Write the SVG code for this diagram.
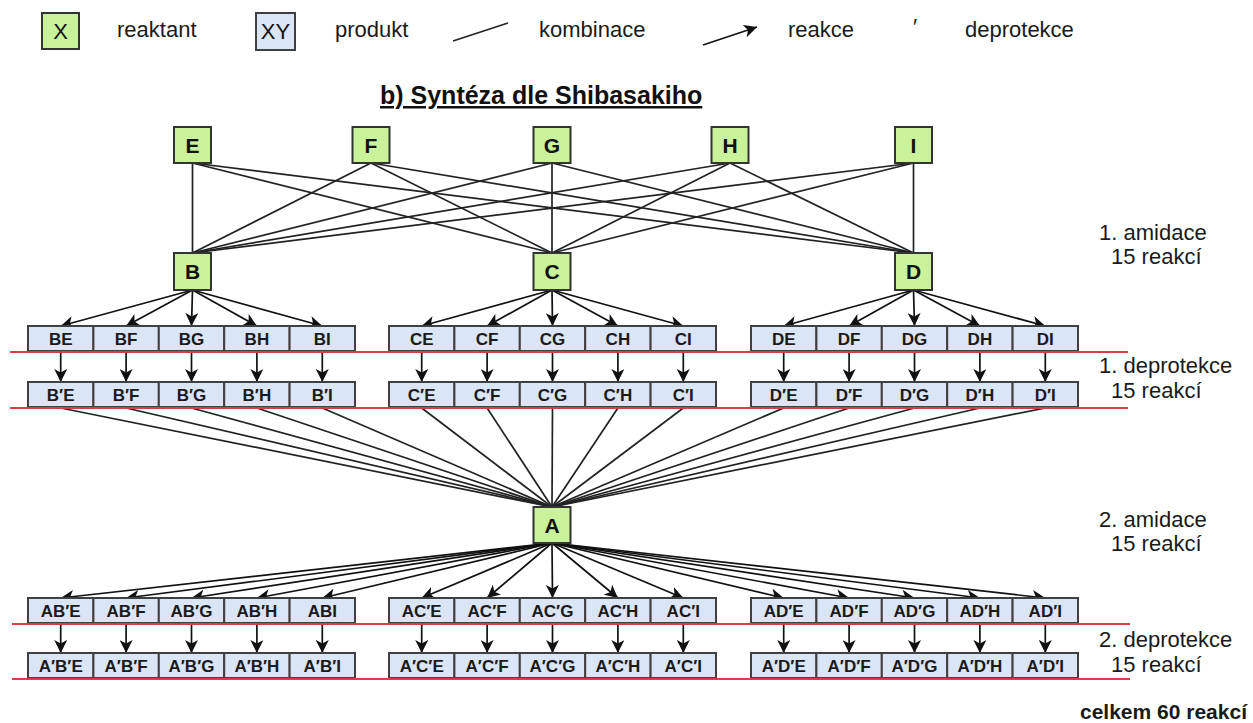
<svg xmlns="http://www.w3.org/2000/svg" width="1253" height="723" viewBox="0 0 1253 723">
<style>
.n{fill:#c9f29a;stroke:#333;stroke-width:2}
.c{fill:#dae5f5;stroke:#404040;stroke-width:2}
.nt{font-family:"Liberation Sans",Arial,sans-serif;font-size:21px;font-weight:bold;fill:#111;text-anchor:middle}
.lg{font-family:"Liberation Sans",Arial,sans-serif;font-size:22px;fill:#111;text-anchor:middle}
.ct{font-family:"Liberation Sans",Arial,sans-serif;font-size:17px;font-weight:bold;fill:#1a1a1a;text-anchor:middle}
.lt{font-family:"Liberation Sans",Arial,sans-serif;font-size:22px;fill:#1a1a1a}
.ln{stroke:#222;stroke-width:1.7;fill:none}
.ar{stroke:#111;stroke-width:1.7;fill:none;marker-end:url(#ah)}
.red{stroke:#dc3c46;stroke-width:1.8}
</style>
<defs>
<marker id="ah" viewBox="0 0 13 13" refX="13" refY="6.5" markerWidth="13" markerHeight="13" markerUnits="userSpaceOnUse" orient="auto">
<path d="M0,0 L13,6.5 L0,13 L3.5,6.5 z" fill="#111"/>
</marker>
</defs>
<rect width="1253" height="723" fill="#fff"/>

<g id="legend">
<rect class="n" x="42" y="13" width="37" height="36"/>
<text class="lg" x="60.5" y="39">X</text>
<text class="lt" x="117" y="37">reaktant</text>
<rect class="c" x="256" y="13" width="39" height="37"/>
<text class="lg" x="275.5" y="39" font-size="21">XY</text>
<text class="lt" x="335" y="37">produkt</text>
<line class="ln" x1="453" y1="41" x2="508" y2="23"/>
<text class="lt" x="539" y="37">kombinace</text>
<line class="ar" x1="703" y1="45" x2="757" y2="27"/>
<text class="lt" x="788" y="37">reakce</text>
<text class="lt" x="913" y="34">′</text>
<text class="lt" x="965" y="37">deprotekce</text>
</g>

<text id="title" x="380" y="104" font-family="Liberation Sans,Arial,sans-serif" font-size="25" font-weight="bold" fill="#111" text-decoration="underline">b) Syntéza dle Shibasakiho</text>

<g id="connectors">
<line class="ln" x1="192.5" y1="163" x2="192.5" y2="253"/>
<line class="ln" x1="192.5" y1="163" x2="552" y2="253"/>
<line class="ln" x1="192.5" y1="163" x2="913.5" y2="253"/>
<line class="ln" x1="371" y1="163" x2="192.5" y2="253"/>
<line class="ln" x1="371" y1="163" x2="552" y2="253"/>
<line class="ln" x1="371" y1="163" x2="913.5" y2="253"/>
<line class="ln" x1="552" y1="163" x2="192.5" y2="253"/>
<line class="ln" x1="552" y1="163" x2="552" y2="253"/>
<line class="ln" x1="552" y1="163" x2="913.5" y2="253"/>
<line class="ln" x1="730" y1="163" x2="192.5" y2="253"/>
<line class="ln" x1="730" y1="163" x2="552" y2="253"/>
<line class="ln" x1="730" y1="163" x2="913.5" y2="253"/>
<line class="ln" x1="913.5" y1="163" x2="192.5" y2="253"/>
<line class="ln" x1="913.5" y1="163" x2="552" y2="253"/>
<line class="ln" x1="913.5" y1="163" x2="913.5" y2="253"/>
<line class="ar" x1="192.5" y1="290" x2="60.7" y2="326"/>
<line class="ar" x1="192.5" y1="290" x2="126.1" y2="326"/>
<line class="ar" x1="192.5" y1="290" x2="191.5" y2="326"/>
<line class="ar" x1="192.5" y1="290" x2="256.9" y2="326"/>
<line class="ar" x1="192.5" y1="290" x2="322.3" y2="326"/>
<line class="ar" x1="552" y1="290" x2="421.7" y2="326"/>
<line class="ar" x1="552" y1="290" x2="487.1" y2="326"/>
<line class="ar" x1="552" y1="290" x2="552.5" y2="326"/>
<line class="ar" x1="552" y1="290" x2="617.9" y2="326"/>
<line class="ar" x1="552" y1="290" x2="683.3" y2="326"/>
<line class="ar" x1="913.5" y1="290" x2="783.7" y2="326"/>
<line class="ar" x1="913.5" y1="290" x2="849.1" y2="326"/>
<line class="ar" x1="913.5" y1="290" x2="914.5" y2="326"/>
<line class="ar" x1="913.5" y1="290" x2="979.9" y2="326"/>
<line class="ar" x1="913.5" y1="290" x2="1045.3" y2="326"/>
<line class="ar" x1="60.7" y1="352" x2="60.7" y2="382"/>
<line class="ar" x1="126.1" y1="352" x2="126.1" y2="382"/>
<line class="ar" x1="191.5" y1="352" x2="191.5" y2="382"/>
<line class="ar" x1="256.9" y1="352" x2="256.9" y2="382"/>
<line class="ar" x1="322.3" y1="352" x2="322.3" y2="382"/>
<line class="ar" x1="421.7" y1="352" x2="421.7" y2="382"/>
<line class="ar" x1="487.1" y1="352" x2="487.1" y2="382"/>
<line class="ar" x1="552.5" y1="352" x2="552.5" y2="382"/>
<line class="ar" x1="617.9" y1="352" x2="617.9" y2="382"/>
<line class="ar" x1="683.3" y1="352" x2="683.3" y2="382"/>
<line class="ar" x1="783.7" y1="352" x2="783.7" y2="382"/>
<line class="ar" x1="849.1" y1="352" x2="849.1" y2="382"/>
<line class="ar" x1="914.5" y1="352" x2="914.5" y2="382"/>
<line class="ar" x1="979.9" y1="352" x2="979.9" y2="382"/>
<line class="ar" x1="1045.3" y1="352" x2="1045.3" y2="382"/>
<line class="ln" x1="60.7" y1="408" x2="552" y2="507"/>
<line class="ln" x1="126.1" y1="408" x2="552" y2="507"/>
<line class="ln" x1="191.5" y1="408" x2="552" y2="507"/>
<line class="ln" x1="256.9" y1="408" x2="552" y2="507"/>
<line class="ln" x1="322.3" y1="408" x2="552" y2="507"/>
<line class="ln" x1="421.7" y1="408" x2="552" y2="507"/>
<line class="ln" x1="487.1" y1="408" x2="552" y2="507"/>
<line class="ln" x1="552.5" y1="408" x2="552" y2="507"/>
<line class="ln" x1="617.9" y1="408" x2="552" y2="507"/>
<line class="ln" x1="683.3" y1="408" x2="552" y2="507"/>
<line class="ln" x1="783.7" y1="408" x2="552" y2="507"/>
<line class="ln" x1="849.1" y1="408" x2="552" y2="507"/>
<line class="ln" x1="914.5" y1="408" x2="552" y2="507"/>
<line class="ln" x1="979.9" y1="408" x2="552" y2="507"/>
<line class="ln" x1="1045.3" y1="408" x2="552" y2="507"/>
<line class="ar" x1="552" y1="543" x2="60.7" y2="598"/>
<line class="ar" x1="552" y1="543" x2="126.1" y2="598"/>
<line class="ar" x1="552" y1="543" x2="191.5" y2="598"/>
<line class="ar" x1="552" y1="543" x2="256.9" y2="598"/>
<line class="ar" x1="552" y1="543" x2="322.3" y2="598"/>
<line class="ar" x1="552" y1="543" x2="421.7" y2="598"/>
<line class="ar" x1="552" y1="543" x2="487.1" y2="598"/>
<line class="ar" x1="552" y1="543" x2="552.5" y2="598"/>
<line class="ar" x1="552" y1="543" x2="617.9" y2="598"/>
<line class="ar" x1="552" y1="543" x2="683.3" y2="598"/>
<line class="ar" x1="552" y1="543" x2="783.7" y2="598"/>
<line class="ar" x1="552" y1="543" x2="849.1" y2="598"/>
<line class="ar" x1="552" y1="543" x2="914.5" y2="598"/>
<line class="ar" x1="552" y1="543" x2="979.9" y2="598"/>
<line class="ar" x1="552" y1="543" x2="1045.3" y2="598"/>
<line class="ar" x1="60.7" y1="624" x2="60.7" y2="653"/>
<line class="ar" x1="126.1" y1="624" x2="126.1" y2="653"/>
<line class="ar" x1="191.5" y1="624" x2="191.5" y2="653"/>
<line class="ar" x1="256.9" y1="624" x2="256.9" y2="653"/>
<line class="ar" x1="322.3" y1="624" x2="322.3" y2="653"/>
<line class="ar" x1="421.7" y1="624" x2="421.7" y2="653"/>
<line class="ar" x1="487.1" y1="624" x2="487.1" y2="653"/>
<line class="ar" x1="552.5" y1="624" x2="552.5" y2="653"/>
<line class="ar" x1="617.9" y1="624" x2="617.9" y2="653"/>
<line class="ar" x1="683.3" y1="624" x2="683.3" y2="653"/>
<line class="ar" x1="783.7" y1="624" x2="783.7" y2="653"/>
<line class="ar" x1="849.1" y1="624" x2="849.1" y2="653"/>
<line class="ar" x1="914.5" y1="624" x2="914.5" y2="653"/>
<line class="ar" x1="979.9" y1="624" x2="979.9" y2="653"/>
<line class="ar" x1="1045.3" y1="624" x2="1045.3" y2="653"/>
</g>

<g id="nodes">
<g id="E"><rect class="n" x="174" y="127" width="37" height="36"/><text class="nt" x="192.5" y="153">E</text></g>
<g id="F"><rect class="n" x="352.5" y="127" width="37" height="36"/><text class="nt" x="371" y="153">F</text></g>
<g id="G"><rect class="n" x="533.5" y="127" width="37" height="36"/><text class="nt" x="552" y="153">G</text></g>
<g id="H"><rect class="n" x="711.5" y="127" width="37" height="36"/><text class="nt" x="730" y="153">H</text></g>
<g id="I"><rect class="n" x="895" y="127" width="37" height="36"/><text class="nt" x="913.5" y="153">I</text></g>
<g id="B"><rect class="n" x="174" y="253" width="37" height="37"/><text class="nt" x="192.5" y="279">B</text></g>
<g id="C"><rect class="n" x="533.5" y="253" width="37" height="37"/><text class="nt" x="552" y="279">C</text></g>
<g id="D"><rect class="n" x="895" y="253" width="37" height="37"/><text class="nt" x="913.5" y="279">D</text></g>
<g id="A"><rect class="n" x="533.5" y="507" width="37" height="36"/><text class="nt" x="552" y="533">A</text></g>

<g id="BE" transform="translate(28,326)"><rect class="c" width="65.4" height="25"/><text class="ct" x="32.7" y="19">BE</text></g>
<g id="BF" transform="translate(93.4,326)"><rect class="c" width="65.4" height="25"/><text class="ct" x="32.7" y="19">BF</text></g>
<g id="BG" transform="translate(158.8,326)"><rect class="c" width="65.4" height="25"/><text class="ct" x="32.7" y="19">BG</text></g>
<g id="BH" transform="translate(224.2,326)"><rect class="c" width="65.4" height="25"/><text class="ct" x="32.7" y="19">BH</text></g>
<g id="BI" transform="translate(289.6,326)"><rect class="c" width="65.4" height="25"/><text class="ct" x="32.7" y="19">BI</text></g>
<g id="CE" transform="translate(389,326)"><rect class="c" width="65.4" height="25"/><text class="ct" x="32.7" y="19">CE</text></g>
<g id="CF" transform="translate(454.4,326)"><rect class="c" width="65.4" height="25"/><text class="ct" x="32.7" y="19">CF</text></g>
<g id="CG" transform="translate(519.8,326)"><rect class="c" width="65.4" height="25"/><text class="ct" x="32.7" y="19">CG</text></g>
<g id="CH" transform="translate(585.2,326)"><rect class="c" width="65.4" height="25"/><text class="ct" x="32.7" y="19">CH</text></g>
<g id="CI" transform="translate(650.6,326)"><rect class="c" width="65.4" height="25"/><text class="ct" x="32.7" y="19">CI</text></g>
<g id="DE" transform="translate(751,326)"><rect class="c" width="65.4" height="25"/><text class="ct" x="32.7" y="19">DE</text></g>
<g id="DF" transform="translate(816.4,326)"><rect class="c" width="65.4" height="25"/><text class="ct" x="32.7" y="19">DF</text></g>
<g id="DG" transform="translate(881.8,326)"><rect class="c" width="65.4" height="25"/><text class="ct" x="32.7" y="19">DG</text></g>
<g id="DH" transform="translate(947.2,326)"><rect class="c" width="65.4" height="25"/><text class="ct" x="32.7" y="19">DH</text></g>
<g id="DI" transform="translate(1012.6,326)"><rect class="c" width="65.4" height="25"/><text class="ct" x="32.7" y="19">DI</text></g>
<g id="BpE" transform="translate(28,382)"><rect class="c" width="65.4" height="25"/><text class="ct" x="32.7" y="19">B′E</text></g>
<g id="BpF" transform="translate(93.4,382)"><rect class="c" width="65.4" height="25"/><text class="ct" x="32.7" y="19">B′F</text></g>
<g id="BpG" transform="translate(158.8,382)"><rect class="c" width="65.4" height="25"/><text class="ct" x="32.7" y="19">B′G</text></g>
<g id="BpH" transform="translate(224.2,382)"><rect class="c" width="65.4" height="25"/><text class="ct" x="32.7" y="19">B′H</text></g>
<g id="BpI" transform="translate(289.6,382)"><rect class="c" width="65.4" height="25"/><text class="ct" x="32.7" y="19">B′I</text></g>
<g id="CpE" transform="translate(389,382)"><rect class="c" width="65.4" height="25"/><text class="ct" x="32.7" y="19">C′E</text></g>
<g id="CpF" transform="translate(454.4,382)"><rect class="c" width="65.4" height="25"/><text class="ct" x="32.7" y="19">C′F</text></g>
<g id="CpG" transform="translate(519.8,382)"><rect class="c" width="65.4" height="25"/><text class="ct" x="32.7" y="19">C′G</text></g>
<g id="CpH" transform="translate(585.2,382)"><rect class="c" width="65.4" height="25"/><text class="ct" x="32.7" y="19">C′H</text></g>
<g id="CpI" transform="translate(650.6,382)"><rect class="c" width="65.4" height="25"/><text class="ct" x="32.7" y="19">C′I</text></g>
<g id="DpE" transform="translate(751,382)"><rect class="c" width="65.4" height="25"/><text class="ct" x="32.7" y="19">D′E</text></g>
<g id="DpF" transform="translate(816.4,382)"><rect class="c" width="65.4" height="25"/><text class="ct" x="32.7" y="19">D′F</text></g>
<g id="DpG" transform="translate(881.8,382)"><rect class="c" width="65.4" height="25"/><text class="ct" x="32.7" y="19">D′G</text></g>
<g id="DpH" transform="translate(947.2,382)"><rect class="c" width="65.4" height="25"/><text class="ct" x="32.7" y="19">D′H</text></g>
<g id="DpI" transform="translate(1012.6,382)"><rect class="c" width="65.4" height="25"/><text class="ct" x="32.7" y="19">D′I</text></g>
<g id="ABpE" transform="translate(28,598)"><rect class="c" width="65.4" height="25"/><text class="ct" x="32.7" y="19">AB′E</text></g>
<g id="ABpF" transform="translate(93.4,598)"><rect class="c" width="65.4" height="25"/><text class="ct" x="32.7" y="19">AB′F</text></g>
<g id="ABpG" transform="translate(158.8,598)"><rect class="c" width="65.4" height="25"/><text class="ct" x="32.7" y="19">AB′G</text></g>
<g id="ABpH" transform="translate(224.2,598)"><rect class="c" width="65.4" height="25"/><text class="ct" x="32.7" y="19">AB′H</text></g>
<g id="ABpI" transform="translate(289.6,598)"><rect class="c" width="65.4" height="25"/><text class="ct" x="32.7" y="19">ABI</text></g>
<g id="ACpE" transform="translate(389,598)"><rect class="c" width="65.4" height="25"/><text class="ct" x="32.7" y="19">AC′E</text></g>
<g id="ACpF" transform="translate(454.4,598)"><rect class="c" width="65.4" height="25"/><text class="ct" x="32.7" y="19">AC′F</text></g>
<g id="ACpG" transform="translate(519.8,598)"><rect class="c" width="65.4" height="25"/><text class="ct" x="32.7" y="19">AC′G</text></g>
<g id="ACpH" transform="translate(585.2,598)"><rect class="c" width="65.4" height="25"/><text class="ct" x="32.7" y="19">AC′H</text></g>
<g id="ACpI" transform="translate(650.6,598)"><rect class="c" width="65.4" height="25"/><text class="ct" x="32.7" y="19">AC′I</text></g>
<g id="ADpE" transform="translate(751,598)"><rect class="c" width="65.4" height="25"/><text class="ct" x="32.7" y="19">AD′E</text></g>
<g id="ADpF" transform="translate(816.4,598)"><rect class="c" width="65.4" height="25"/><text class="ct" x="32.7" y="19">AD′F</text></g>
<g id="ADpG" transform="translate(881.8,598)"><rect class="c" width="65.4" height="25"/><text class="ct" x="32.7" y="19">AD′G</text></g>
<g id="ADpH" transform="translate(947.2,598)"><rect class="c" width="65.4" height="25"/><text class="ct" x="32.7" y="19">AD′H</text></g>
<g id="ADpI" transform="translate(1012.6,598)"><rect class="c" width="65.4" height="25"/><text class="ct" x="32.7" y="19">AD′I</text></g>
<g id="ApBpE" transform="translate(28,653)"><rect class="c" width="65.4" height="25"/><text class="ct" x="32.7" y="19">A′B′E</text></g>
<g id="ApBpF" transform="translate(93.4,653)"><rect class="c" width="65.4" height="25"/><text class="ct" x="32.7" y="19">A′B′F</text></g>
<g id="ApBpG" transform="translate(158.8,653)"><rect class="c" width="65.4" height="25"/><text class="ct" x="32.7" y="19">A′B′G</text></g>
<g id="ApBpH" transform="translate(224.2,653)"><rect class="c" width="65.4" height="25"/><text class="ct" x="32.7" y="19">A′B′H</text></g>
<g id="ApBpI" transform="translate(289.6,653)"><rect class="c" width="65.4" height="25"/><text class="ct" x="32.7" y="19">A′B′I</text></g>
<g id="ApCpE" transform="translate(389,653)"><rect class="c" width="65.4" height="25"/><text class="ct" x="32.7" y="19">A′C′E</text></g>
<g id="ApCpF" transform="translate(454.4,653)"><rect class="c" width="65.4" height="25"/><text class="ct" x="32.7" y="19">A′C′F</text></g>
<g id="ApCpG" transform="translate(519.8,653)"><rect class="c" width="65.4" height="25"/><text class="ct" x="32.7" y="19">A′C′G</text></g>
<g id="ApCpH" transform="translate(585.2,653)"><rect class="c" width="65.4" height="25"/><text class="ct" x="32.7" y="19">A′C′H</text></g>
<g id="ApCpI" transform="translate(650.6,653)"><rect class="c" width="65.4" height="25"/><text class="ct" x="32.7" y="19">A′C′I</text></g>
<g id="ApDpE" transform="translate(751,653)"><rect class="c" width="65.4" height="25"/><text class="ct" x="32.7" y="19">A′D′E</text></g>
<g id="ApDpF" transform="translate(816.4,653)"><rect class="c" width="65.4" height="25"/><text class="ct" x="32.7" y="19">A′D′F</text></g>
<g id="ApDpG" transform="translate(881.8,653)"><rect class="c" width="65.4" height="25"/><text class="ct" x="32.7" y="19">A′D′G</text></g>
<g id="ApDpH" transform="translate(947.2,653)"><rect class="c" width="65.4" height="25"/><text class="ct" x="32.7" y="19">A′D′H</text></g>
<g id="ApDpI" transform="translate(1012.6,653)"><rect class="c" width="65.4" height="25"/><text class="ct" x="32.7" y="19">A′D′I</text></g>
</g>

<g id="separators">
<line class="red" x1="10" y1="352" x2="1128" y2="352"/>
<line class="red" x1="10" y1="408" x2="1128" y2="408"/>
<line class="red" x1="12" y1="624" x2="1130" y2="624"/>
<line class="red" x1="12" y1="679" x2="1130" y2="679"/>
</g>

<g id="stage-labels">
<text class="lt" x="1099" y="240">1. amidace</text>
<text class="lt" x="1111" y="264">15 reakcí</text>
<text class="lt" x="1099" y="373">1. deprotekce</text>
<text class="lt" x="1111" y="398">15 reakcí</text>
<text class="lt" x="1099" y="527">2. amidace</text>
<text class="lt" x="1111" y="551">15 reakcí</text>
<text class="lt" x="1099" y="647">2. deprotekce</text>
<text class="lt" x="1111" y="672">15 reakcí</text>
<text x="1080" y="719" font-family="Liberation Sans,Arial,sans-serif" font-size="21" font-weight="bold" fill="#1a1a1a">celkem 60 reakcí</text>
</g>
</svg>
